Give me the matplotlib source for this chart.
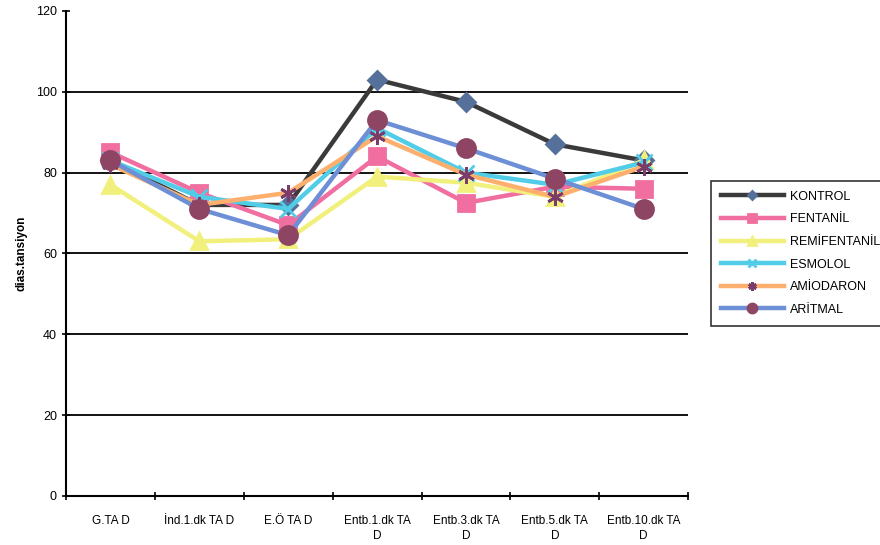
import matplotlib.pyplot as plt

plt.rcParams['font.family'] = ['Liberation Sans', 'DejaVu Sans']

categories = ['G.TA D', 'İnd.1.dk TA D', 'E.Ö TA D', 'Entb.1.dk TA\nD',
              'Entb.3.dk TA\nD', 'Entb.5.dk TA\nD', 'Entb.10.dk TA\nD']

kontrol = [83, 72, 72, 103, 97.5, 87, 83]
fentanil = [85, 75, 67, 84, 72.5, 76.5, 76]
remifentanil = [77, 63, 63.5, 79, 77.5, 74, 83]
esmolol = [83, 74, 71, 91, 80, 77, 82.5]
amiodaron = [82, 72, 75, 89, 79.5, 74, 81.5]
aritmal = [83, 71, 64.5, 93, 86, 78.5, 71]

series = [
    ('KONTROL', kontrol, '#3a3a3a', 'D', '#55709a', 9),
    ('FENTANİL', fentanil, '#f06ea0', 's', '#f06ea0', 12),
    ('REMİFENTANİL', remifentanil, '#f2f07c', '^', '#f2f07c', 12),
    ('ESMOLOL', esmolol, '#52cde8', 'x', '#52cde8', 12),
    ('AMİODARON', amiodaron, '#fdb06e', (6, 2, 0), '#7a3d6a', 12),
    ('ARİTMAL', aritmal, '#6d8fd6', 'o', '#8e4563', 13),
]

fig = plt.figure(figsize=(8.8, 5.45), dpi=100)
ax = fig.add_axes([0.075, 0.09, 0.707, 0.89])

x = list(range(len(categories)))
for name, vals, lc, mk, mc, ms in series:
    ax.plot(x, vals, color=lc, linewidth=3.2, marker=mk, markersize=ms,
            markerfacecolor=mc, markeredgecolor=mc, markeredgewidth=2,
            label=name)

ax.set_ylim(0, 120)
ax.set_yticks(range(0, 121, 20))
ax.set_xlim(-0.5, 6.5)
ax.set_xticks([i - 0.5 for i in range(8)])
ax.set_xticklabels([])
ax.set_xticks(x, minor=True)
ax.set_xticklabels(categories, minor=True, fontsize=8.5, linespacing=1.3)
ax.tick_params(axis='x', which='minor', length=0, pad=14)
ax.tick_params(axis='x', which='major', direction='inout', length=6, width=1.2)
ax.tick_params(axis='y', direction='inout', length=6, width=1.2, labelsize=9)

for y in range(20, 101, 20):
    ax.axhline(y, color='black', linewidth=1.3, zorder=0)

ax.spines['top'].set_visible(False)
ax.spines['right'].set_visible(False)
ax.spines['left'].set_linewidth(1.5)
ax.spines['bottom'].set_linewidth(1.5)

ax.set_ylabel('dias.tansiyon', fontsize=8.5, fontweight='bold', labelpad=6)

leg = fig.legend(loc='upper left', bbox_to_anchor=(0.801, 0.68),
                 bbox_transform=fig.transFigure, fontsize=9,
                 handlelength=5.0, markerscale=0.5, numpoints=1,
                 fancybox=False, edgecolor='black', borderpad=0.8,
                 labelspacing=0.85, handletextpad=0.5)
leg.get_frame().set_linewidth(1.2)

fig.savefig('out.png', dpi=100)
